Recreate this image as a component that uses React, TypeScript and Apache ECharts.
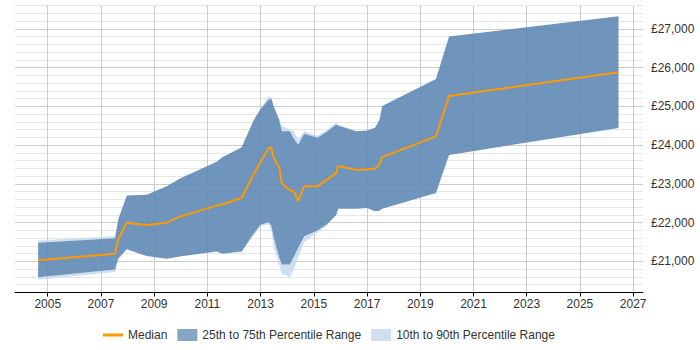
import React, { useEffect, useRef } from 'react';
import * as echarts from 'echarts';

const years = [2004.64, 2007.53, 2007.65, 2007.97, 2008.72, 2009.47, 2009.97, 2011.35, 2011.56, 2012.29, 2012.72, 2013.0, 2013.3, 2013.4, 2013.5, 2013.7, 2013.8, 2014.1, 2014.25, 2014.41, 2014.64, 2015.14, 2015.5, 2015.84, 2015.92, 2016.6, 2017.0, 2017.3, 2017.47, 2017.57, 2019.59, 2020.08, 2026.45];
const p10 = [20530, 20730, 21030, 21313, 21138, 21068, 21130, 21260, 21198, 21260, 21650, 21900, 21960, 21800, 21350, 20900, 20680, 20590, 20800, 21100, 21500, 21750, 21930, 22200, 22357, 22357, 22380, 22294, 22310, 22357, 22764, 23747, 24444];
const p25 = [20590, 20790, 21080, 21313, 21138, 21068, 21130, 21260, 21198, 21260, 21700, 21950, 22020, 21930, 21600, 21100, 20920, 20920, 21120, 21350, 21650, 21800, 21965, 22200, 22357, 22357, 22380, 22294, 22310, 22357, 22764, 23747, 24444];
const median = [21030, 21200, 21570, 22000, 21940, 22000, 22156, 22440, 22470, 22644, 23225, 23570, 23922, 23938, 23661, 23426, 23009, 22834, 22808, 22555, 22938, 22938, 23110, 23285, 23460, 23356, 23375, 23390, 23512, 23690, 24225, 25268, 25879];
const p75 = [21485, 21600, 22080, 22700, 22720, 22940, 23139, 23572, 23690, 23948, 24616, 24930, 25170, 25200, 24980, 24640, 24360, 24355, 24165, 24008, 24295, 24190, 24350, 24530, 24500, 24355, 24380, 24450, 24660, 25007, 25704, 26800, 27320];
const p90 = [21540, 21650, 22100, 22700, 22720, 22940, 23139, 23572, 23690, 23948, 24616, 24950, 25252, 25230, 24990, 24700, 24500, 24400, 24355, 24140, 24355, 24243, 24400, 24574, 24530, 24355, 24380, 24450, 24660, 25007, 25704, 26800, 27320];
const tickYears = [2005, 2007, 2009, 2011, 2013, 2015, 2017, 2019, 2021, 2023, 2025, 2027];

const SERIES_MEDIAN = 'Median';
const SERIES_IQR = '25th to 75th Percentile Range';
const SERIES_DECILE = '10th to 90th Percentile Range';

const FONT = '"Liberation Sans", Arial, Helvetica, sans-serif';
const MEDIAN_ICON = 'path://M0,0L0.01,0L0,0.01Z M0,4.5L20,4.5L20,7.5L0,7.5Z M20,12L19.99,12L20,11.99Z';

function band(api: any, lo: number[], hi: number[]) {
  const pts: number[][] = [];
  for (let i = 0; i < years.length; i++) pts.push(api.coord([years[i], hi[i]]));
  for (let i = years.length - 1; i >= 0; i--) pts.push(api.coord([years[i], lo[i]]));
  return pts;
}

export default function App() {
  const ref = useRef<HTMLDivElement>(null);
  useEffect(() => {
    if (!ref.current) return;
    const chart = echarts.init(ref.current, null, { renderer: 'svg' });
    const light = 'rgba(192,215,236,0.8)';
    const dark = 'rgba(95,137,182,0.9)';
    chart.setOption({
      animation: false,
      textStyle: { fontFamily: FONT },
      grid: { left: 15, right: 57, top: 5.5, bottom: 57.5, containLabel: false },
      xAxis: {
        type: 'value',
        min: 2003.77,
        max: 2027.37,
        axisLine: { show: true, lineStyle: { color: '#000', width: 1 } },
        axisTick: { show: true, customValues: tickYears, length: 4, lineStyle: { color: '#000' } },
        axisLabel: { customValues: tickYears, formatter: (v: number) => String(Math.round(v)), color: '#333', fontSize: 12, margin: 5, fontFamily: FONT },
        splitLine: { show: true, lineStyle: { color: '#cccccc', width: 1 } },
      },
      yAxis: {
        type: 'value',
        position: 'right',
        min: 20200,
        max: 27600,
        interval: 200,
        axisLine: { show: false },
        axisTick: { show: false },
        axisLabel: {
          formatter: (v: number) => (v % 1000 === 0 ? '£' + v.toLocaleString('en-GB') : ''),
          color: '#333', fontSize: 12, margin: 8, fontFamily: FONT,
        },
        splitLine: { show: true, lineStyle: { color: ['#e6e6e6', '#e6e6e6', '#e6e6e6', '#e6e6e6', '#cccccc'], width: 1 } },
      },
      legend: {
        left: 98,
        top: 324,
        itemWidth: 20,
        itemHeight: 12,
        itemGap: 10,
        textStyle: { fontSize: 12, color: '#333', fontFamily: FONT },
        data: [
          { name: SERIES_MEDIAN, icon: MEDIAN_ICON, itemStyle: { color: '#ff9900', borderWidth: 0 } },
          { name: SERIES_IQR, icon: 'rect', itemStyle: { color: '#87a6c6' } },
          { name: SERIES_DECILE, icon: 'rect', itemStyle: { color: '#cfdff0' } },
        ],
      },
      series: [
        {
          type: 'custom',
          name: SERIES_DECILE,
          silent: true,
          z: 1,
          itemStyle: { color: '#cfdff0' },
          data: years.map((x, i) => [x, p10[i], p90[i]]),
          encode: { x: 0, y: [1, 2] },
          renderItem: (params: any, api: any) => {
            if (params.dataIndex !== 0) return null;
            return {
              type: 'group',
              children: [
                { type: 'polygon', shape: { points: band(api, p75, p90) }, style: { fill: light } },
                { type: 'polygon', shape: { points: band(api, p10, p25) }, style: { fill: light } },
              ],
            };
          },
        },
        {
          type: 'custom',
          name: SERIES_IQR,
          silent: true,
          z: 2,
          itemStyle: { color: '#87a6c6' },
          data: years.map((x, i) => [x, p25[i], p75[i]]),
          encode: { x: 0, y: [1, 2] },
          renderItem: (params: any, api: any) => {
            if (params.dataIndex !== 0) return null;
            return { type: 'polygon', shape: { points: band(api, p25, p75) }, style: { fill: dark } };
          },
        },
        {
          type: 'line',
          name: SERIES_MEDIAN,
          z: 3,
          symbol: 'none',
          showSymbol: false,
          color: '#ff9900',
          lineStyle: { color: '#ff9900', width: 2 },
          data: years.map((x, i) => [x, median[i]]),
        },
      ],
    });
    return () => chart.dispose();
  }, []);
  return <div ref={ref} style={{ position: 'absolute', left: 0, top: 0, width: 700, height: 350 }} />;
}
